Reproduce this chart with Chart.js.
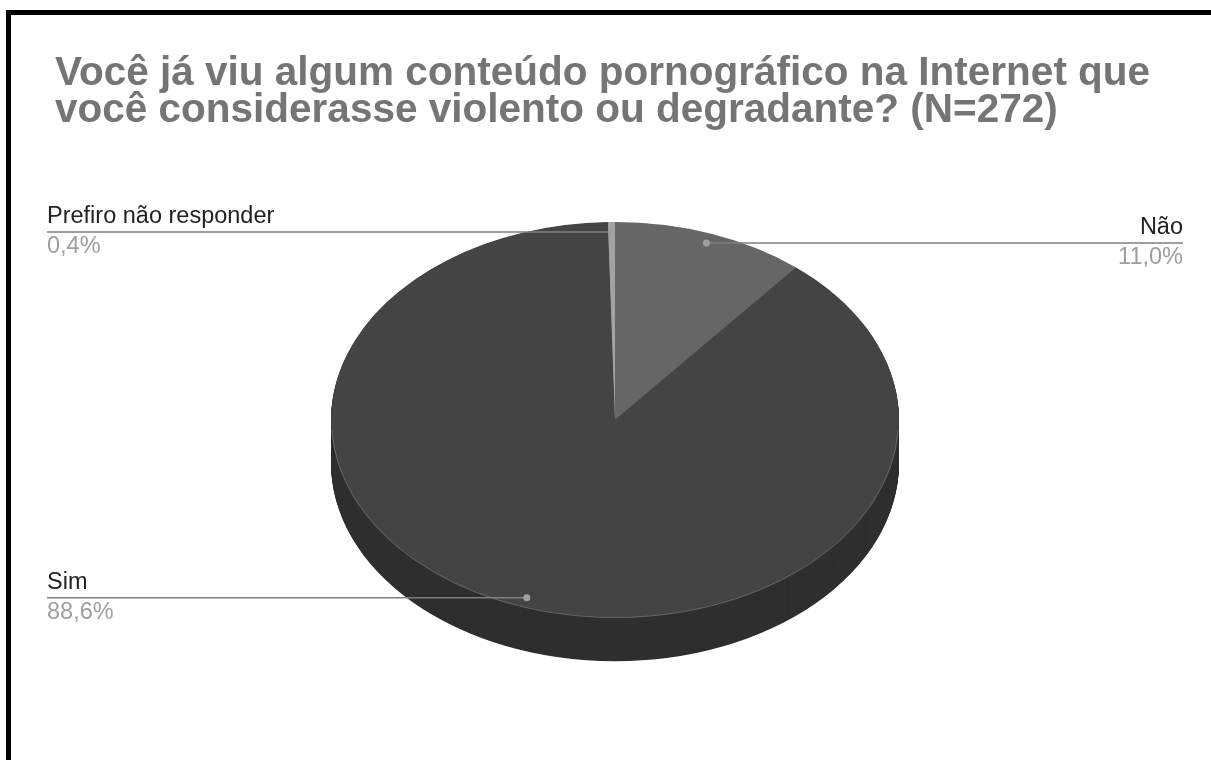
<!DOCTYPE html>
<html>
<head>
<meta charset="utf-8">
<style>
    body { margin: 0; background: #fff; overflow: hidden; }
    #frame { position: absolute; left: 6px; top: 10px; width: 1300px; height: 900px; border: 5px solid #000; }
    #pieChart { position: absolute; left: 0; top: 0; }
</style>
</head>
<body>
<div id="frame"></div>
<canvas id="pieChart" width="1211" height="760"></canvas>

<script src="https://cdn.jsdelivr.net/npm/chart.js"></script>
<script type="text/javascript">
    // data (N=272), slices go clockwise from 12 o'clock
    const categories = ["Não", "Sim", "Prefiro não responder"];
    const percentValues = [11.0, 88.6, 0.4];
    const topColors = ["#666666", "#444444", "#a3a3a3"];
    const sideColors = ["#4d4d4d", "#2f2f2f", "#7a7a7a"];
    const titleLines = [
        "Você já viu algum conteúdo pornográfico na Internet que",
        "você considerasse violento ou degradante? (N=272)"
    ];

    const tilt = 198 / 284;   // vertical squash of the pie
    const depth = 43;         // thickness of the pie, px

    function formatPct(v) {
        return v.toFixed(1).replace(".", ",") + "%";
    }

    const pie3d = {
        id: "pie3d",
        beforeDatasetsDraw(chart) {
            let ctx = chart.ctx;
            let arcs = chart.getDatasetMeta(0).data;
            let cx = arcs[0].x, cy = arcs[0].y;
            ctx.save();
            ctx.translate(cx, cy);
            ctx.scale(1, tilt);
            ctx.translate(-cx, -cy);
            // side wall: stack of shifted copies
            let steps = Math.round(depth / tilt);
            for (let d = steps; d > 0; d--) {
                arcs.forEach((arc, i) => {
                    ctx.beginPath();
                    ctx.moveTo(arc.x, arc.y + d);
                    ctx.arc(arc.x, arc.y + d, arc.outerRadius, arc.startAngle, arc.endAngle);
                    ctx.closePath();
                    ctx.fillStyle = sideColors[i];
                    ctx.fill();
                });
            }
        },
        afterDatasetsDraw(chart) {
            let ctx = chart.ctx;
            let arcs = chart.getDatasetMeta(0).data;
            let cx = arcs[0].x, cy = arcs[0].y, r = arcs[0].outerRadius;
            // faint rim on the front edge of the top face
            ctx.beginPath();
            ctx.arc(cx, cy, r - 0.5, 0.05, Math.PI - 0.05);
            ctx.restore();
            ctx.save();
            ctx.strokeStyle = "rgba(255,255,255,0.18)";
            ctx.lineWidth = 1;
            ctx.stroke();
            ctx.restore();

            // leader lines and labels
            arcs.forEach((arc, i) => {
                let mid = (arc.startAngle + arc.endAngle) / 2;
                let px = cx + 0.95 * r * Math.cos(mid);
                let py = cy + 0.95 * r * tilt * Math.sin(mid);
                let left = px < cx;
                let endX = left ? 47 : 1183;

                ctx.save();
                ctx.strokeStyle = "#7f7f7f";
                ctx.lineWidth = 1.5;
                ctx.beginPath();
                ctx.moveTo(px, py);
                ctx.lineTo(endX, py);
                ctx.stroke();
                ctx.fillStyle = "#a0a0a0";
                ctx.beginPath();
                ctx.arc(px, py, 3.5, 0, Math.PI * 2);
                ctx.fill();

                ctx.textAlign = left ? "left" : "right";
                ctx.textBaseline = "alphabetic";
                ctx.font = '23.5px "Liberation Sans", Arial, sans-serif';
                ctx.fillStyle = "#222222";
                ctx.fillText(categories[i], endX, py - 9);
                ctx.fillStyle = "#9e9e9e";
                ctx.fillText(formatPct(percentValues[i]), endX, py + 21);
                ctx.restore();
            });
        },
        afterDraw(chart) {
            let ctx = chart.ctx;
            ctx.save();
            ctx.font = 'bold 40.5px "Liberation Sans", Arial, sans-serif';
            ctx.fillStyle = "#757575";
            ctx.textAlign = "left";
            ctx.textBaseline = "alphabetic";
            ctx.fillText(titleLines[0], 55, 85);
            ctx.fillText(titleLines[1], 55, 122);
            ctx.restore();
        }
    };

    let ctx = document.getElementById("pieChart").getContext("2d");
    new Chart(ctx, {
        type: "pie",
        data: {
            labels: categories,
            datasets: [{
                data: percentValues,
                backgroundColor: topColors,
                borderWidth: 0
            }]
        },
        options: {
            responsive: false,
            animation: false,
            devicePixelRatio: 1,
            layout: {
                padding: { left: 331, right: 312, top: 136, bottom: 56 }
            },
            plugins: {
                legend: { display: false },
                title: { display: false },
                tooltip: { enabled: false }
            }
        },
        plugins: [pie3d]
    });
</script>
</body>
</html>
